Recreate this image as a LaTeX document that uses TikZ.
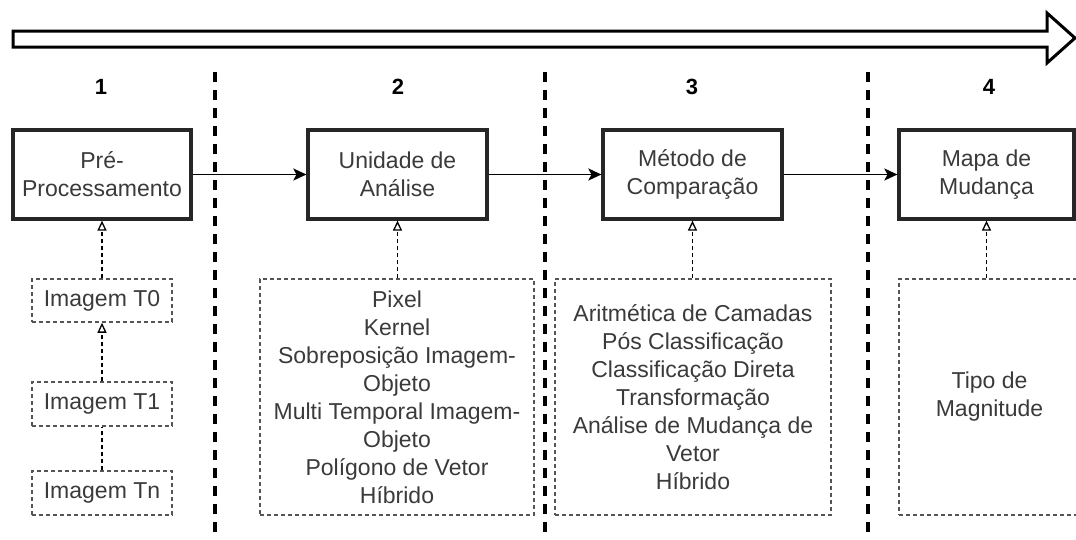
\documentclass[tikz,border=0pt]{standalone}
\usepackage{fontspec}
\setmainfont{Liberation Sans}
\usetikzlibrary{arrows.meta}
\definecolor{txt}{HTML}{3A3A3A}
\definecolor{dgrey}{HTML}{555555}
\begin{document}
\begin{tikzpicture}[x=1pt,y=-1pt,
  mainbox/.style={draw=black!85, line width=3.2pt, rectangle, minimum width=178pt, minimum height=89pt, inner sep=0pt, align=center, text=txt, font=\fontsize{23}{28}\selectfont},
  subbox/.style={draw=dgrey, line width=1.5pt, dash pattern=on 4pt off 3pt, rectangle, inner sep=0pt, align=center, text=txt, font=\fontsize{23}{28}\selectfont},
  flow/.style={draw=black, line width=1.8pt, -{Stealth[length=13pt,width=12pt,inset=3pt]}},
  feed/.style={draw=black, line width=1.3pt, dash pattern=on 4pt off 3pt, -{Triangle[open,length=10pt,width=9pt,line width=1.3pt]}},
  link/.style={draw=black, line width=1.3pt, dash pattern=on 4pt off 3pt},
  sep/.style={draw=black, line width=3.2pt, dash pattern=on 10pt off 8pt},
  steplabel/.style={font=\fontsize{22}{26}\selectfont\bfseries, text=black, inner sep=0pt}
]
\useasboundingbox (0,0) rectangle (1076,539);

% big timeline arrow
\draw[line width=3pt, line join=miter, fill=white]
  (13,31) -- (1047,31) -- (1047,13) -- (1075,38) -- (1047,63) -- (1047,47) -- (13,47) -- cycle;

% separators
\coordinate (s1a) at (215,72);  \coordinate (s1b) at (215,545);
\coordinate (s2a) at (545,72);  \coordinate (s2b) at (545,545);
\coordinate (s3a) at (868,72);  \coordinate (s3b) at (868,545);
\draw[sep] (s1a) -- (s1b);
\draw[sep] (s2a) -- (s2b);
\draw[sep] (s3a) -- (s3b);

% step labels
\node[steplabel] (l1) at (101,87) {1};
\node[steplabel] (l2) at (398,87) {2};
\node[steplabel] (l3) at (692,87) {3};
\node[steplabel] (l4) at (989,87) {4};

% main boxes
\node[mainbox] (b1) at (102,174.5) {Pré-\\Processamento};
\node[mainbox, minimum width=179pt] (b2) at (397.5,174.5) {Unidade de\\Análise};
\node[mainbox, minimum width=179pt] (b3) at (692.5,174.5) {Método de\\Comparação};
\node[mainbox, minimum width=175pt] (b4) at (986.5,174.5) {Mapa de\\Mudança};

\draw[flow] (b1) -- (b2);
\draw[flow] (b2) -- (b3);
\draw[flow] (b3) -- (b4);

% sub boxes column 1
\node[subbox, minimum width=140pt, minimum height=43pt] (t0) at (102,300.5) {Imagem T0};
\node[subbox, minimum width=140pt, minimum height=44pt] (t1) at (102,404) {Imagem T1};
\node[subbox, minimum width=140pt, minimum height=44pt] (tn) at (102,493) {Imagem Tn};

\draw[feed] (t0) -- (b1);
\draw[feed] (t1) -- (t0);
\draw[link] (tn) -- (t1);

% sub boxes columns 2-4
\node[subbox, minimum width=274pt, minimum height=236pt] (u2) at (397,397)
  {Pixel\\Kernel\\Sobreposição Imagem-\\Objeto\\Multi Temporal Imagem-\\Objeto\\Polígono de Vetor\\Híbrido};
\node[subbox, minimum width=276pt, minimum height=236pt] (u3) at (693,397)
  {Aritmética de Camadas\\Pós Classificação\\Classificação Direta\\Transformação\\Análise de Mudança de\\Vetor\\Híbrido};
\node[subbox, minimum width=181pt, minimum height=236pt] (u4) at (989.5,397)
  {Tipo de\\Magnitude};

\draw[feed] (u2.north -| b2) -- (b2);
\draw[feed] (u3.north -| b3) -- (b3);
\draw[feed] (u4.north -| b4) -- (b4);
\end{tikzpicture}
\end{document}
